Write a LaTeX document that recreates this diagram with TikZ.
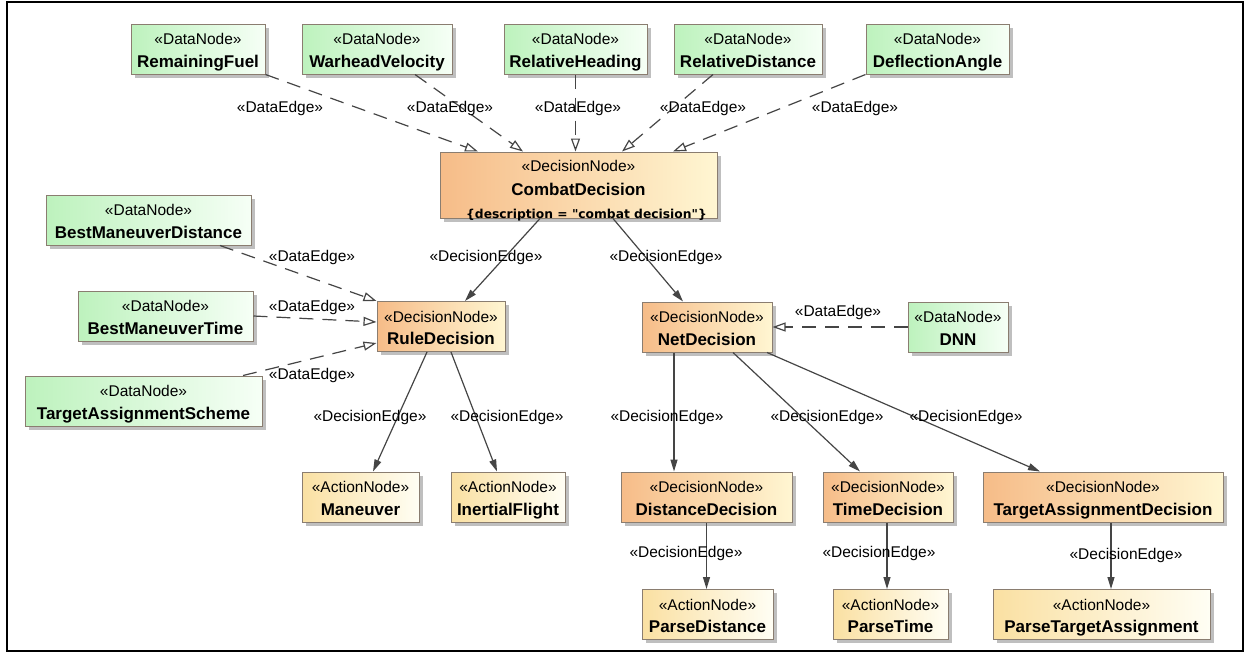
\documentclass[tikz,border=0pt]{standalone}
\usepackage{fontspec}
\setmainfont{Liberation Sans}
\newfontfamily\descfont{DejaVu Sans}
\usetikzlibrary{arrows.meta,shadows}
\usepackage{xcolor}
\definecolor{boxline}{HTML}{8A7D70}
\definecolor{dataL}{HTML}{BDF2BD}
\definecolor{dataR}{HTML}{F6FFF6}
\definecolor{decL}{HTML}{F6BC88}
\definecolor{decR}{HTML}{FFF6D2}
\definecolor{actL}{HTML}{FAE0A2}
\definecolor{actR}{HTML}{FFFEF4}
\definecolor{edgegray}{HTML}{454545}
\newcommand{\umlname}[1]{{\fontsize{17}{22.5}\selectfont\bfseries #1}}

\begin{document}
\begin{tikzpicture}[x=1pt, y=-1pt,
    every node/.style={font=\fontsize{15.5}{22.5}\selectfont},
    umlbox/.style={draw=boxline, line width=1pt, align=center, inner xsep=2pt, inner ysep=0pt,
        minimum height=50pt, text height=43pt, text depth=7pt,
        drop shadow={shadow xshift=3.5pt, shadow yshift=-3.5pt, fill=black!25, opacity=1}},
    datanode/.style={umlbox, left color=dataL, right color=dataR},
    decnode/.style={umlbox, left color=decL, right color=decR},
    actnode/.style={umlbox, left color=actL, right color=actR},
    dataedge/.style={draw=edgegray, line width=1.2pt, dash pattern=on 14pt off 9pt,
        -{Triangle[open, length=13pt, width=9pt]}},
    decedge/.style={draw=edgegray, line width=1.2pt, -{Triangle[length=12pt, width=7pt]}},
    elabel/.style={inner sep=0pt}]

    \useasboundingbox (0,0) rectangle (1247,659);
    \draw[line width=2pt] (7,1.5) rectangle (1243,651);

    % Data nodes at the top
    \foreach \nd/\cx/\w/\txt in {rfuel/198/134/RemainingFuel, wvel/377/150/WarheadVelocity,
        rhead/575.5/143/RelativeHeading, rdist/748/148/RelativeDistance, dangle/937.5/143/DeflectionAngle} {
        \node[datanode, minimum width=\w pt] (\nd) at (\cx,49) {«DataNode»\\\umlname{\txt}};
    }

    % Decision nodes
    \node[decnode, minimum width=277pt, minimum height=66pt, text height=66pt, text depth=0pt] (combat) at (578.5,185)
        {«DecisionNode»\\[2pt]\umlname{CombatDecision}\\\hspace*{16pt}{\descfont\bfseries\fontsize{12.3}{20}\selectfont\{description = "combat decision"\}}};
    \node[decnode, minimum width=128pt] (rule) at (441,326.5) {«DecisionNode»\\\umlname{RuleDecision}};
    \node[decnode, minimum width=130pt] (net) at (707,327) {«DecisionNode»\\\umlname{NetDecision}};
    \node[decnode, minimum width=171pt] (distdec) at (706.5,497) {«DecisionNode»\\\umlname{DistanceDecision}};
    \node[decnode, minimum width=130pt] (timedec) at (888,497) {«DecisionNode»\\\umlname{TimeDecision}};
    \node[decnode, minimum width=240pt] (tadec) at (1103,497) {«DecisionNode»\\\umlname{TargetAssignmentDecision}};

    % Data nodes on the left and DNN
    \node[datanode, minimum width=205pt] (bmd) at (148.5,220) {«DataNode»\\\umlname{BestManeuverDistance}};
    \node[datanode, minimum width=175pt] (bmt) at (165.5,316) {«DataNode»\\\umlname{BestManeuverTime}};
    \node[datanode, minimum width=237pt] (tas) at (143.5,401) {«DataNode»\\\umlname{TargetAssignmentScheme}};
    \node[datanode, minimum width=100pt] (dnn) at (958,327) {«DataNode»\\\umlname{DNN}};

    % Action nodes
    \node[actnode, minimum width=117pt] (maneuver) at (360.5,497) {«ActionNode»\\\umlname{Maneuver}};
    \node[actnode, minimum width=114pt] (inertial) at (508,497) {«ActionNode»\\\umlname{InertialFlight}};
    \node[actnode, minimum width=131pt] (pdist) at (707.5,614.5) {«ActionNode»\\\umlname{ParseDistance}};
    \node[actnode, minimum width=115pt] (ptime) at (890.5,614.5) {«ActionNode»\\\umlname{ParseTime}};
    \node[actnode, minimum width=217pt] (pta) at (1101.5,614.5) {«ActionNode»\\\umlname{ParseTargetAssignment}};

    % Data edges
    \draw[dataedge] (rfuel.south east) -- ([xshift=-100.5pt]combat.north);
    \draw[dataedge] ([xshift=38pt]wvel.south) -- ([xshift=-55.5pt]combat.north);
    \draw[dataedge] (rhead.south) -- (rhead.south |- combat.north);
    \draw[dataedge] ([xshift=-35pt]rdist.south) -- ([xshift=43.5pt]combat.north);
    \draw[dataedge] (dangle.south west) -- ([xshift=94.5pt]combat.north);
    \draw[dataedge] ([xshift=71.5pt]bmd.south) -- (rule.north west);
    \draw[dataedge] (bmt.east) -- ([yshift=4.5pt]rule.west);
    \draw[dataedge] ([xshift=99.5pt]tas.north) -- ([yshift=-16.5pt]rule.west);
    \draw[dataedge] (dnn.west) -- (net.east);

    % Decision edges
    \draw[decedge] ([xshift=-38.5pt]combat.south) -- ([xshift=24pt]rule.north);
    \draw[decedge] ([xshift=34.5pt]combat.south) -- ([xshift=-24pt]net.north);
    \draw[decedge] ([xshift=-14pt]rule.south) -- ([xshift=12.5pt]maneuver.north);
    \draw[decedge] ([xshift=10pt]rule.south) -- ([xshift=-11pt]inertial.north);
    \draw[decedge] ([xshift=-33pt]net.south) -- ([xshift=-33pt]net.south |- distdec.north);
    \draw[decedge] ([xshift=26pt]net.south) -- ([xshift=-28pt]timedec.north);
    \draw[decedge] ([xshift=60pt]net.south) -- ([xshift=-63pt]tadec.north);
    \draw[decedge] (distdec.south) -- (distdec.south |- pdist.north);
    \draw[decedge] ([xshift=-1pt]timedec.south) -- ([xshift=-1pt]timedec.south |- ptime.north);
    \draw[decedge] ([xshift=8pt]tadec.south) -- ([xshift=8pt]tadec.south |- pta.north);

    % Edge labels
    \foreach \i/\lx/\ly in {1/280/108, 2/450/108, 3/578/108, 4/703/108, 5/855/108,
        6/312/257, 7/312/307, 8/312/375, 9/838/312} {
        \node[elabel] (dl\i) at (\lx,\ly) {«DataEdge»};
    }
    \foreach \i/\lx/\ly in {1/486/257, 2/666/257, 3/370/417, 4/507/417, 5/667/417,
        6/827/417, 7/966/417, 8/686/553, 9/879/553, 10/1126/555} {
        \node[elabel] (el\i) at (\lx,\ly) {«DecisionEdge»};
    }
\end{tikzpicture}
\end{document}
